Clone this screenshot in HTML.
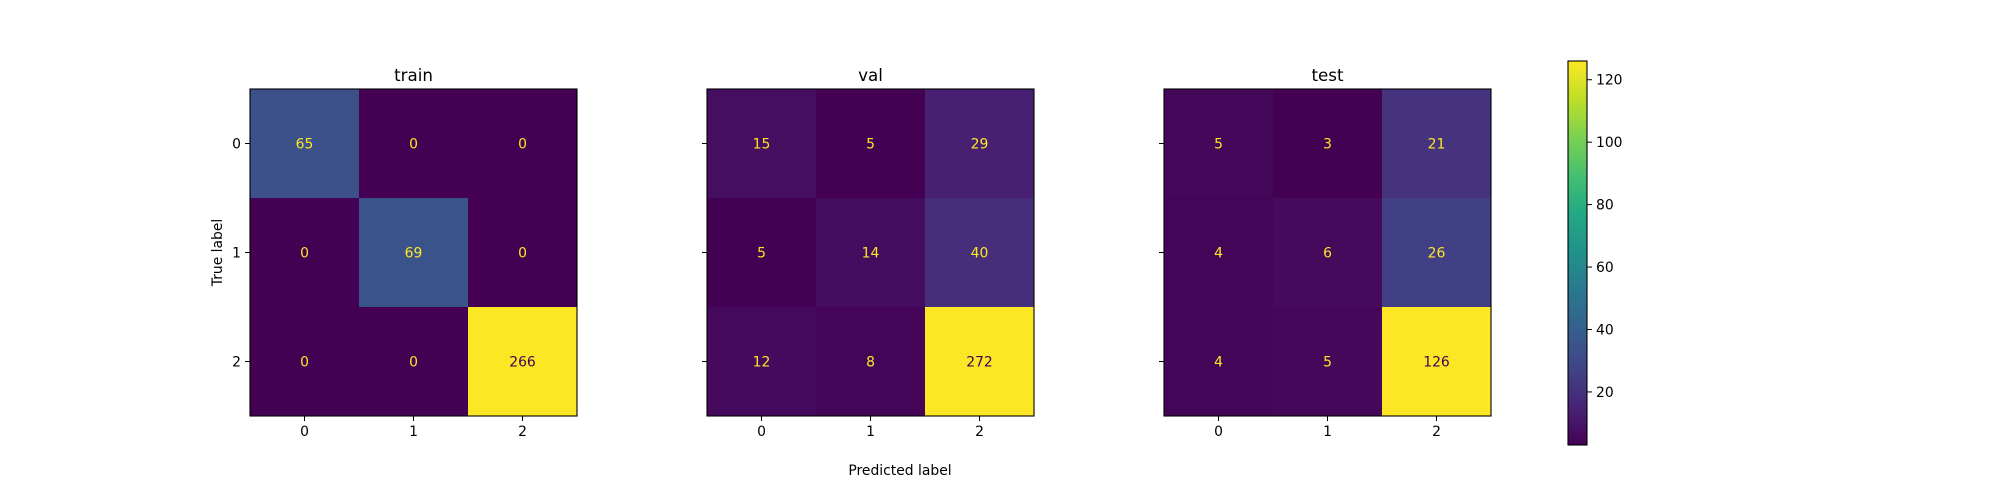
<!DOCTYPE html>
<html><head><meta charset="utf-8"><style>
html,body{margin:0;padding:0;background:#fff;}
svg{display:block;font-family:"DejaVu Sans","Liberation Sans",sans-serif;}
</style></head><body>
<svg id="fig" width="2000" height="500" viewBox="0 0 2000 500" xmlns="http://www.w3.org/2000/svg">
<defs>
<linearGradient id="vir" x1="0" y1="1" x2="0" y2="0">
<stop offset="0" stop-color="#440154"/><stop offset="0.1" stop-color="#482475"/><stop offset="0.2" stop-color="#414487"/><stop offset="0.3" stop-color="#355f8d"/><stop offset="0.4" stop-color="#2a788e"/><stop offset="0.5" stop-color="#21918c"/><stop offset="0.6" stop-color="#22a884"/><stop offset="0.7" stop-color="#44bf70"/><stop offset="0.8" stop-color="#7ad151"/><stop offset="0.9" stop-color="#bddf26"/><stop offset="1" stop-color="#fde725"/>
</linearGradient>
</defs>
</svg>
<script>
const panelTitles = ["train", "val", "test"];
const classLabels = ["0", "1", "2"];
const trainValues = [[65,0,0],[0,69,0],[0,0,266]];
const valValues = [[15,5,29],[5,14,40],[12,8,272]];
const testValues = [[5,3,21],[4,6,26],[4,5,126]];
const colorbarTicks = [20, 40, 60, 80, 100, 120];

const NS = "http://www.w3.org/2000/svg";
const figSvg = document.getElementById('fig');
const vStops = ["#440154","#482475","#414487","#355f8d","#2a788e","#21918c","#22a884","#44bf70","#7ad151","#bddf26","#fde725"];
function hexRgb(h){return [1,3,5].map(i=>parseInt(h.substr(i,2),16));}
function viridis(t){t=Math.max(0,Math.min(1,t));const p=t*10;const i=Math.min(9,Math.floor(p));const f=p-i;const a=hexRgb(vStops[i]),b=hexRgb(vStops[i+1]);return 'rgb('+a.map((v,k)=>Math.round(v+(b[k]-v)*f)).join(',')+')';}
function mk(tag, attrs, parent){const e=document.createElementNS(NS,tag);for(const k in attrs)e.setAttribute(k,attrs[k]);(parent||figSvg).appendChild(e);return e;}

const panels = [
  {left:250, values:trainValues},
  {left:707, values:valValues},
  {left:1164, values:testValues}
];
const axTop = 89, axSize = 327;

panels.forEach((p, pi) => {
  const g = mk('g', {});
  
  
  const flat = p.values.flat();
  const vmin = Math.min(...flat), vmax = Math.max(...flat);
  const cell = axSize / classLabels.length;
  const xScale = j => p.left + j * cell;
  const yScale = i => axTop + i * cell;
  p.values.forEach((row, i) => row.forEach((v, j) => {
    const t = (v - vmin) / (vmax - vmin);
    const r = mk('rect', {x:xScale(j), y:yScale(i), width:cell+0.5, height:cell+0.5, fill:viridis(t)}, g);
    
    
    const tx = mk('text', {x:xScale(j)+cell/2, y:yScale(i)+cell/2+5, 'text-anchor':'middle', 'font-size':'13.9', fill: v < (vmax+vmin)/2 ? '#fde725' : '#440154'}, g);
    tx.textContent = v;
    
    
  }));
  const fr = mk('rect', {x:p.left, y:axTop, width:axSize, height:axSize, fill:'none', stroke:'#000', 'stroke-width':1.1}, g);
  
  
  const ti = mk('text', {x:p.left+axSize/2, y:81, 'text-anchor':'middle', 'font-size':'16.7', fill:'#000'}, g);
  ti.textContent = panelTitles[pi];
  
  
  classLabels.forEach((lab, k) => {
    const cx = xScale(k) + cell/2;
    mk('line', {x1:cx, x2:cx, y1:axTop+axSize, y2:axTop+axSize+5, stroke:'#000', 'stroke-width':1}, g);
    const xl = mk('text', {x:cx, y:436, 'text-anchor':'middle', 'font-size':'13.9', fill:'#000'}, g);
    xl.textContent = lab;
    
    
    const cy = yScale(k) + cell/2;
    mk('line', {x1:p.left-5, x2:p.left, y1:cy, y2:cy, stroke:'#000', 'stroke-width':1}, g);
    if (pi === 0) {
      const yl = mk('text', {x:p.left-9, y:cy+5, 'text-anchor':'end', 'font-size':'13.9', fill:'#000'}, g);
      yl.textContent = lab;
      
      
    }
  });
});

const yt = mk('text', {x:0, y:0, 'text-anchor':'middle', 'font-size':'13.9', fill:'#000', transform:'translate(222,252.5) rotate(-90)'});
yt.textContent = 'True label';


const xt = mk('text', {x:900, y:475, 'text-anchor':'middle', 'font-size':'13.9', fill:'#000'});
xt.textContent = 'Predicted label';



const cbFlat = testValues.flat();
const cbMin = Math.min(...cbFlat), cbMax = Math.max(...cbFlat);
const cbTop = 61, cbBot = 445, cbLeft = 1568, cbW = 19;
const cbScale = v => cbBot - (v - cbMin) / (cbMax - cbMin) * (cbBot - cbTop);
const cbg = mk('g', {});


mk('rect', {x:cbLeft, y:cbTop, width:cbW, height:cbBot-cbTop, fill:'url(#vir)', stroke:'#000', 'stroke-width':1.1}, cbg);
colorbarTicks.forEach(v => {
  const y = cbScale(v);
  mk('line', {x1:cbLeft+cbW, x2:cbLeft+cbW+5, y1:y, y2:y, stroke:'#000', 'stroke-width':1}, cbg);
  const t = mk('text', {x:cbLeft+cbW+9, y:y+5, 'font-size':'13.9', fill:'#000'}, cbg);
  t.textContent = v;
  
  
});
</script>
</body></html>
